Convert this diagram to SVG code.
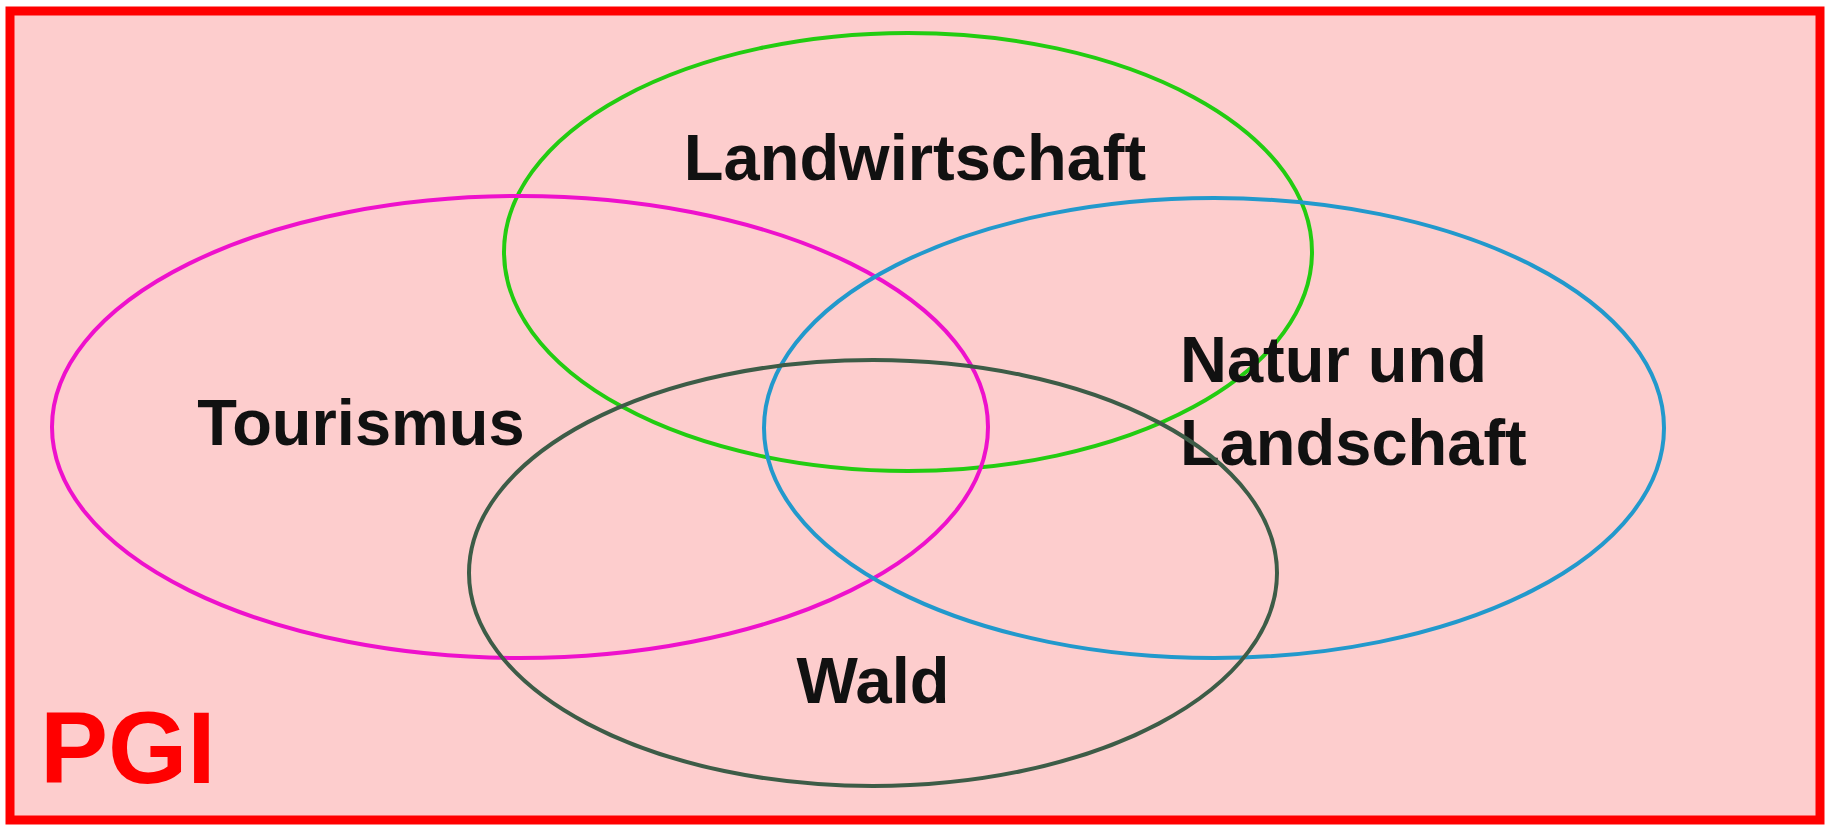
<svg xmlns="http://www.w3.org/2000/svg" width="1829" height="825" viewBox="0 0 1829 825">
<style>
.ring{fill:none;stroke-width:4}
.lbl{font-family:"Liberation Sans",Arial,sans-serif;font-weight:bold;font-size:65px;fill:#111}
</style>
<rect x="0" y="0" width="1829" height="825" fill="#ffffff"/>
<rect id="frame" x="10" y="11" width="1810" height="809" fill="#fdcdcd" stroke="#ff0000" stroke-width="9"/>
<g id="connectors"></g>
<g id="landwirtschaft">
<ellipse class="ring" cx="908" cy="252" rx="404" ry="219" stroke="#22cc11"/>
<text class="lbl" x="915" y="180" text-anchor="middle">Landwirtschaft</text>
</g>
<g id="tourismus">
<ellipse class="ring" cx="520" cy="427" rx="468" ry="231" stroke="#ee11cc"/>
<text class="lbl" x="361" y="445" text-anchor="middle">Tourismus</text>
</g>
<g id="natur">
<ellipse class="ring" cx="1214" cy="428" rx="450" ry="230" stroke="#2299cc"/>
<text class="lbl" x="1180" y="382">Natur und</text>
<text class="lbl" x="1180" y="465">Landschaft</text>
</g>
<g id="wald">
<ellipse class="ring" cx="873" cy="573" rx="404" ry="213" stroke="#3d5c47"/>
<text class="lbl" x="873" y="703" text-anchor="middle">Wald</text>
</g>
<g id="pgi">
<text x="40" y="783" font-family="Liberation Sans,Arial,sans-serif" font-weight="bold" font-size="102" fill="#ff0000">PGI</text>
</g>
</svg>
